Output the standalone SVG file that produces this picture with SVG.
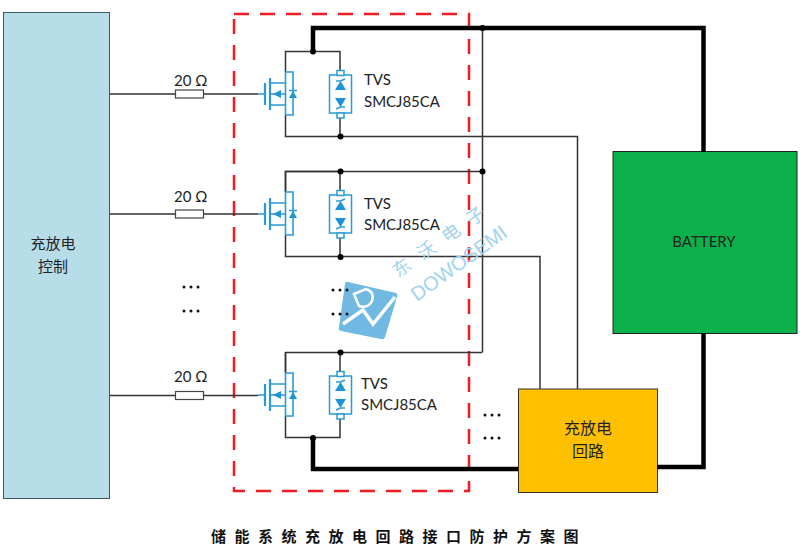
<svg xmlns="http://www.w3.org/2000/svg" xmlns:xlink="http://www.w3.org/1999/xlink" width="800" height="560" viewBox="0 0 800 560">
<style>
.t{font-family:"Lato","Open Sans","Noto Sans CJK SC",sans-serif;font-size:15px;fill:#222}
.c{font-family:"Noto Sans CJK SC",sans-serif;font-size:16px;fill:#222;text-anchor:middle}
.w{fill:none;stroke:#333;stroke-width:1.5}
.th{fill:none;stroke:#000;stroke-width:4.5}
.b{fill:none;stroke:#2a9ad6;stroke-width:1.5}
.f{fill:#1b95d8}
.d{fill:#000}
.wm{fill:#9fd3ee}
</style>
<defs>
<g id="unit">
<path class="w" d="M340 75V51.500H285.500V72M285.500 115V136.500H340V113"/>
<path class="b" d="M285.500 72H293V115H285.500ZM258 94H265M270 83H285.500V72M270 105H285.500V115M270 94H285" style="stroke-width:1.600"/>
<path class="b" d="M265 83V105M270 78V110" style="stroke-width:2.200"/>
<path class="f" d="M273 94L281 90V98Z"/>
<path class="f" d="M289 98H297L293 91Z"/>
<path class="b" d="M289 90.500H297"/>
<rect class="b" x="329.500" y="75" width="22" height="38" style="fill:#fff"/>
<rect class="b" x="337" y="70.500" width="7" height="5" style="fill:#fff"/>
<rect class="b" x="337" y="113" width="7" height="5" style="fill:#fff"/>
<path class="f" d="M335 90H346L340.500 81Z"/>
<path class="f" d="M335 98H346L340.500 107Z"/>
<path class="b" d="M336 81L340.500 81L345 79M336 109L340.500 107L345 107"/>
</g>
<g id="res">
<rect x="175.500" y="-4" width="28" height="8" fill="#fff" stroke="#444" stroke-width="1.200"/>
</g>
</defs>

<g id="controller">
<rect x="3.500" y="12.500" width="106" height="486" fill="#b7dde8" stroke="#3a5a66" stroke-width="1"/>
<text class="c" x="53" y="249" style="font-size:15px">充放电</text>
<text class="c" x="53" y="272" style="font-size:15px">控制</text>
</g>

<g id="battery">
<rect x="613" y="151.500" width="184" height="182" fill="#0cb14b" stroke="#222" stroke-width="1"/>
<text class="t" x="704" y="247" text-anchor="middle">BATTERY</text>
</g>

<g id="circuit">
<rect x="518.500" y="389" width="139" height="103.500" fill="#ffc000" stroke="#333" stroke-width="1"/>
<text class="c" x="588" y="434">充放电</text>
<text class="c" x="588" y="457">回路</text>
</g>

<g id="protection-box">
<rect x="234" y="14" width="235" height="477" fill="none" stroke="#ee1c25" stroke-width="2.500" stroke-dasharray="15 11"/>
</g>

<g id="connectors">
<path class="w" d="M110 94H258M110 214H258M110 395.500H258"/>
<path class="w" d="M340 136.500H577.500V389M340 256.500H540V389M285.500 192V171.500H482M340 352.500H482M285.500 372V352.500M482.500 28V352.500"/>
<path class="th" d="M313 51.500V28H703.500V152M703.500 333V467H657M313 438V469H518"/>
</g>

<g id="mosfet-tvs-1"><use xlink:href="#unit" href="#unit"/><text class="t" x="364" y="85">TVS</text><text class="t" x="364" y="107">SMCJ85CA</text></g>
<g id="mosfet-tvs-2"><use xlink:href="#unit" href="#unit" y="120"/><text class="t" x="364" y="209">TVS</text><text class="t" x="364" y="230">SMCJ85CA</text></g>
<g id="mosfet-tvs-3"><use xlink:href="#unit" href="#unit" y="301"/><text class="t" x="361" y="389">TVS</text><text class="t" x="361" y="410">SMCJ85CA</text></g>

<g id="resistor-1"><use xlink:href="#res" href="#res" y="94"/><text class="t" x="174" y="86">20 Ω</text></g>
<g id="resistor-2"><use xlink:href="#res" href="#res" y="214"/><text class="t" x="174" y="202">20 Ω</text></g>
<g id="resistor-3"><use xlink:href="#res" href="#res" y="395.500"/><text class="t" x="174" y="382">20 Ω</text></g>

<g id="junctions">
<circle class="d" cx="482.500" cy="28" r="3"/><circle class="d" cx="313" cy="51.500" r="3"/><circle class="d" cx="340.500" cy="136.500" r="3"/>
<circle class="d" cx="340.500" cy="171.500" r="3"/><circle class="d" cx="482.500" cy="171.500" r="3"/><circle class="d" cx="340.500" cy="257" r="3"/>
<circle class="d" cx="340.500" cy="352.500" r="3"/><circle class="d" cx="313" cy="438" r="3"/>
</g>

<g id="watermark">
<path d="M348 282L396 293Q398 294 397 297L385 337Q384 340 381 339L341 331Q338 330 339 327L345 284Q345 281 348 282Z" fill="#6fb9e3"/>
<path d="M343 324L363 310L373 324L395 297" fill="none" stroke="#fff" stroke-width="3.500"/>
<path d="M354 294L366 289Q375 292 372 301Q368 309 359 306Z" fill="none" stroke="#fff" stroke-width="2.500"/>
<text transform="translate(398 278) rotate(-35)" style="font-family:'Noto Sans CJK SC',serif;font-size:18px;letter-spacing:12px" class="wm">东沃电子</text>
<text transform="translate(417 302) rotate(-36)" style="font-family:'Liberation Sans',sans-serif;font-size:20px" class="wm">DOWOSEMI</text>
</g>

<g id="ellipsis" fill="#111">
<circle cx="184" cy="287" r="1.500"/><circle cx="191" cy="287" r="1.500"/><circle cx="198" cy="287" r="1.500"/>
<circle cx="184" cy="311" r="1.500"/><circle cx="191" cy="311" r="1.500"/><circle cx="198" cy="311" r="1.500"/>
<circle cx="333" cy="290" r="1.500"/><circle cx="340" cy="290" r="1.500"/><circle cx="347" cy="290" r="1.500"/>
<circle cx="333" cy="314" r="1.500"/><circle cx="340" cy="314" r="1.500"/><circle cx="347" cy="314" r="1.500"/>
<circle cx="485" cy="415" r="1.500"/><circle cx="492" cy="415" r="1.500"/><circle cx="499" cy="415" r="1.500"/>
<circle cx="485" cy="438" r="1.500"/><circle cx="492" cy="438" r="1.500"/><circle cx="499" cy="438" r="1.500"/>
</g>

<g id="title">
<text x="399" y="542" style="font-family:'Noto Sans CJK SC',serif;font-size:15px;font-weight:700;letter-spacing:8.500px;fill:#111;text-anchor:middle">储能系统充放电回路接口防护方案图</text>
</g>
</svg>
